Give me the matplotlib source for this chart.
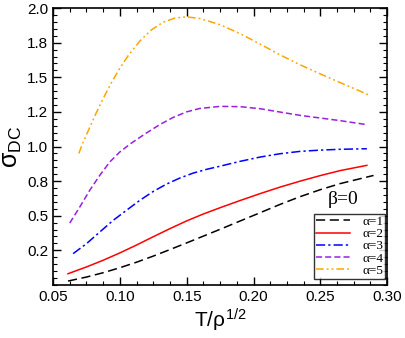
# sigma_DC vs T/rho^(1/2) for several alpha at beta=0

import matplotlib
matplotlib.use('Agg')
import matplotlib.pyplot as plt
from matplotlib.ticker import MultipleLocator, FormatStrFormatter

plt.rcParams['font.family'] = ['Liberation Sans', 'DejaVu Sans']
plt.rcParams['mathtext.fontset'] = 'custom'
plt.rcParams['mathtext.rm'] = 'Liberation Sans'
plt.rcParams['mathtext.it'] = 'Liberation Sans'

# values
x1 = [0.0612, 0.075, 0.0874, 0.0999, 0.1124, 0.1249, 0.1373, 0.1498, 0.1623, 0.175,
      0.190, 0.205, 0.2199, 0.2349, 0.2499, 0.2648, 0.2898]
y1 = [0.028, 0.057, 0.088, 0.124, 0.164, 0.208, 0.255, 0.303, 0.352, 0.402,
      0.462, 0.522, 0.582, 0.638, 0.688, 0.732, 0.791]

x2 = [0.0612, 0.075, 0.0874, 0.0999, 0.1124, 0.1249, 0.1373, 0.1498, 0.1623, 0.175,
      0.190, 0.205, 0.2199, 0.2349, 0.2499, 0.2648, 0.2848]
y2 = [0.081, 0.130, 0.178, 0.231, 0.288, 0.348, 0.406, 0.462, 0.512, 0.558,
      0.610, 0.660, 0.707, 0.750, 0.790, 0.826, 0.864]

x3 = [0.065, 0.075, 0.0849, 0.0949, 0.1049, 0.1149, 0.1249, 0.1348, 0.1448, 0.1548,
      0.1648, 0.175, 0.190, 0.205, 0.2199, 0.2349, 0.2499, 0.2648, 0.2848]
y3 = [0.226, 0.298, 0.382, 0.466, 0.539, 0.611, 0.675, 0.728, 0.772, 0.808,
      0.835, 0.858, 0.893, 0.924, 0.948, 0.965, 0.974, 0.980, 0.984]

x4 = [0.0625, 0.070, 0.0774, 0.0849, 0.0924, 0.0999, 0.1079, 0.1199, 0.1298, 0.1398,
      0.1498, 0.1598, 0.175, 0.190, 0.205, 0.2199, 0.2349, 0.2499, 0.2648, 0.2848]
y4 = [0.447, 0.563, 0.683, 0.791, 0.888, 0.960, 1.020, 1.098, 1.158, 1.210,
      1.250, 1.275, 1.290, 1.288, 1.273, 1.249, 1.225, 1.206, 1.187, 1.158]

x5 = [0.0693, 0.072, 0.0824, 0.0874, 0.0937, 0.0999, 0.1061, 0.1149, 0.1236, 0.1323,
      0.1411, 0.1498, 0.1598, 0.175, 0.190, 0.205, 0.2199, 0.2349, 0.2499, 0.2648,
      0.2798, 0.2873]
y5 = [0.950, 1.020, 1.245, 1.345, 1.462, 1.565, 1.655, 1.762, 1.843, 1.898,
      1.928, 1.937, 1.925, 1.880, 1.815, 1.740, 1.662, 1.590, 1.525, 1.462,
      1.400, 1.367]

labels = ['α=1', 'α=2', 'α=3', 'α=4', 'α=5']

fig = plt.figure(figsize=(4.05, 3.38), dpi=100)
ax = fig.add_axes([0.131, 0.157, 0.825, 0.819])

ax.plot(x1, y1, color='black', lw=1.1, dashes=(6, 3), label=labels[0])
ax.plot(x2, y2, color='red', lw=1.1, label=labels[1])
ax.plot(x3, y3, color='blue', lw=1.1, dashes=(6, 2, 1.5, 2), label=labels[2])
ax.plot(x4, y4, color='#9a1fe0', lw=1.1, dashes=(4, 2), label=labels[3])
ax.plot(x5, y5, color='orange', lw=1.1, dashes=(5, 2, 1.2, 2, 1.2, 2), label=labels[4])

ax.set_xlim(0.05, 0.30)
ax.set_ylim(0, 2.0)
ax.xaxis.set_major_locator(MultipleLocator(0.05))
ax.xaxis.set_minor_locator(MultipleLocator(0.0125))
ax.xaxis.set_major_formatter(FormatStrFormatter('%.2f'))
ax.set_yticks([0.25, 0.5, 0.75, 1.0, 1.25, 1.5, 1.75, 2.0])
ax.yaxis.set_minor_locator(MultipleLocator(0.05))
ax.yaxis.set_major_formatter(FormatStrFormatter('%.1f'))
ax.tick_params(which='both', direction='in', top=True, right=True, labelsize=11)
ax.tick_params(which='major', length=6, width=1)
ax.tick_params(which='minor', length=3, width=0.8)
for s in ax.spines.values():
    s.set_linewidth(1.2)

ax.set_xlabel(r'T/$\rho^{1/2}$', fontsize=15, labelpad=2)
ax.set_ylabel(r'$\sigma_{\mathregular{DC}}$', fontsize=18, labelpad=2)

leg = ax.legend(loc='lower right', bbox_to_anchor=(0.994, 0.022), frameon=True, fancybox=False,
                edgecolor='black', prop={'family': 'Liberation Serif', 'size': 9.5},
                handlelength=2.6, labelspacing=0.0, borderpad=0.15, handletextpad=0.9,
                borderaxespad=0)
leg.get_frame().set_linewidth(1.0)
ax.text(0.868, 0.31, 'β=0', fontsize=14, family='Liberation Serif',
        ha='center', va='center', transform=ax.transAxes)

fig.savefig('out.png', dpi=100)
